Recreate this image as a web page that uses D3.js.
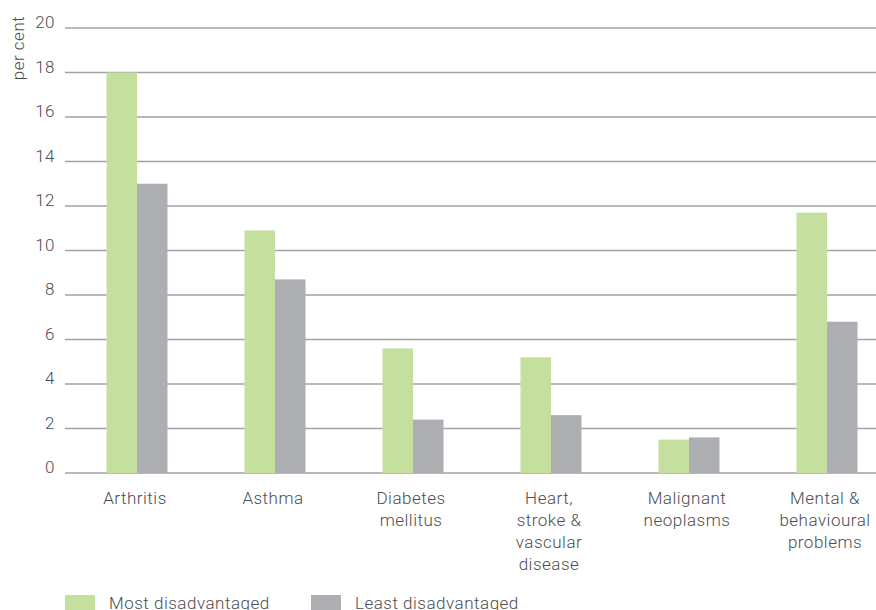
<!DOCTYPE html>
<html>
<head>
<meta charset="utf-8">
<script src="https://cdn.jsdelivr.net/npm/d3@7"></script>
<style>
  html, body { margin: 0; padding: 0; background: #fff; }
  svg { display: block; }
  text { font-family: Roboto, "Open Sans", sans-serif; font-weight: 300; fill: #4d4d4f; letter-spacing: 0.5px; }
</style>
</head>
<body>
<svg id="chart" width="876" height="610"></svg>
<script>
// Condition categories (line breaks in labels split with "|")
const categories = [
  "Arthritis",
  "Asthma",
  "Diabetes|mellitus",
  "Heart,|stroke &|vascular|disease",
  "Malignant|neoplasms",
  "Mental &|behavioural|problems"
];
const seriesNames = ["Most disadvantaged", "Least disadvantaged"];
const mostDisadvantaged  = [18.0, 10.9, 5.6, 5.2, 1.5, 11.7];
const leastDisadvantaged = [13.0, 8.7, 2.4, 2.6, 1.6, 6.8];
const yTicks = [0, 2, 4, 6, 8, 10, 12, 14, 16, 18, 20];
const colors = ["#c4df9e", "#adaeb2"];

const svg = d3.select("#chart");
const fontSize = 17;

const gridLeft = 65, gridRight = 876;
const y = d3.scaleLinear().domain([0, 20]).range([473, 28]);

const x = d3.scaleBand()
  .domain(categories)
  .range([68, 896])
  .paddingInner(0.558)
  .paddingOuter(0.279);

const xs = d3.scaleBand()
  .domain(seriesNames)
  .range([0, x.bandwidth()]);

// Horizontal gridlines
svg.append("g")
  .selectAll("line")
  .data(yTicks)
  .join("line")
  .attr("x1", gridLeft)
  .attr("x2", gridRight)
  .attr("y1", d => y(d))
  .attr("y2", d => y(d))
  .attr("stroke", "#a2a2a4")
  .attr("stroke-width", 1.3);

// Y tick labels
svg.append("g")
  .selectAll("text")
  .data(yTicks)
  .join("text")
  .attr("x", 55)
  .attr("y", d => y(d) - 4)
  .attr("text-anchor", "end")
  .attr("dominant-baseline", "middle")
  .attr("font-size", fontSize)
  .text(d => d);

// Y axis title
svg.append("text")
  .attr("transform", "translate(24,48) rotate(-90)")
  .attr("text-anchor", "middle")
  .attr("font-size", fontSize)
  .text("per cent");

// Bars
const rows = categories.map((c, i) => ({
  cat: c,
  vals: [mostDisadvantaged[i], leastDisadvantaged[i]]
}));

const groups = svg.append("g")
  .selectAll("g")
  .data(rows)
  .join("g")
  .attr("transform", d => `translate(${x(d.cat)},0)`);

groups.selectAll("rect")
  .data(d => d.vals.map((v, j) => ({ name: seriesNames[j], v, j })))
  .join("rect")
  .attr("x", d => xs(d.name))
  .attr("width", xs.bandwidth())
  .attr("y", d => y(d.v))
  .attr("height", d => y(0) - y(d.v))
  .attr("fill", d => colors[d.j]);

// Category labels
const labels = svg.append("g")
  .selectAll("text")
  .data(categories)
  .join("text")
  .attr("text-anchor", "middle")
  .attr("font-size", fontSize)
  .attr("transform", d => `translate(${x(d) + x.bandwidth() / 2 - 2},504)`);

labels.selectAll("tspan")
  .data(d => d.split("|"))
  .join("tspan")
  .attr("x", 0)
  .attr("y", (d, i) => i * 22)
  .text(d => d);

// Legend
const legendX = [65, 311];
const legend = svg.append("g")
  .selectAll("g")
  .data(seriesNames)
  .join("g")
  .attr("transform", (d, i) => `translate(${legendX[i]},595)`);

legend.append("rect")
  .attr("width", 30)
  .attr("height", 16)
  .attr("fill", (d, i) => colors[i]);

legend.append("text")
  .attr("x", 44)
  .attr("y", 14)
  .attr("font-size", fontSize)
  .text(d => d);
</script>
</body>
</html>
